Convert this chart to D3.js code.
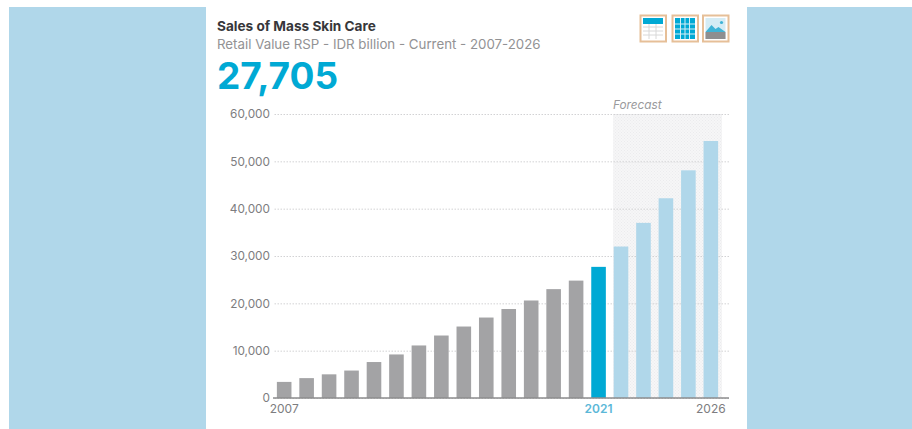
<!DOCTYPE html>
<html>
<head>
<meta charset="utf-8">
<script src="https://cdn.jsdelivr.net/npm/d3@7"></script>
<style>
  html, body { margin: 0; padding: 0; background: #fff; overflow: hidden; }
  text { font-family: "Inter", "Noto Sans", sans-serif; }
</style>
</head>
<body>
<svg id="chart" width="912" height="429"></svg>
<script>
// values
const years = [2007, 2008, 2009, 2010, 2011, 2012, 2013, 2014, 2015, 2016,
               2017, 2018, 2019, 2020, 2021, 2022, 2023, 2024, 2025, 2026];
const sales = [3400, 4200, 5000, 5800, 7600, 9200, 11100, 13200, 15100, 17000,
               18800, 20600, 23000, 24800, 27705, 32000, 37000, 42200, 48100, 54300];
const yTicks = [0, 10000, 20000, 30000, 40000, 50000, 60000];
const xLabels = [2007, 2021, 2026];
const currentYear = 2021;

const svg = d3.select("#chart");

// defs for the forecast hatching
const pattern = svg.append("defs").append("pattern")
    .attr("id", "hatch")
    .attr("width", 3).attr("height", 3)
    .attr("patternUnits", "userSpaceOnUse");
pattern.append("rect").attr("width", 3).attr("height", 3).attr("fill", "#f6f6f7");
pattern.append("rect").attr("width", 1).attr("height", 1).attr("fill", "#ebebed");
pattern.append("rect").attr("x", 1.5).attr("y", 1.5).attr("width", 1).attr("height", 1).attr("fill", "#ebebed");

// side panels
svg.selectAll("rect.panel")
    .data([[9, 197], [747, 165]])
    .join("rect")
    .attr("class", "panel")
    .attr("x", d => d[0])
    .attr("y", 7)
    .attr("width", d => d[1])
    .attr("height", 422)
    .attr("fill", "#b0d7ea");

const x = d3.scaleBand()
    .domain(years)
    .range([273.5, 721.5])
    .paddingInner(0.35)
    .paddingOuter(0.15);

const y = d3.scaleLinear()
    .domain([0, 60000])
    .range([398, 114]);

// forecast area
const forecastLeft = 613;
svg.append("rect")
    .attr("x", forecastLeft)
    .attr("y", y(60000))
    .attr("width", 722 - forecastLeft)
    .attr("height", y(0) - y(60000))
    .attr("fill", "url(#hatch)");

svg.append("text")
    .attr("x", 613)
    .attr("y", 109)
    .attr("font-size", 11.8)
    .attr("font-style", "italic")
    .attr("fill", "#9a9a9c")
    .text("Forecast");

// y axis with dotted grid
const yAxis = d3.axisLeft(y)
    .tickValues(yTicks)
    .tickSize(456)
    .tickPadding(3)
    .tickFormat(d3.format(","));

const yG = svg.append("g")
    .attr("transform", "translate(729,0)")
    .call(yAxis);
yG.select(".domain").remove();
yG.selectAll(".tick line")
    .attr("stroke", "#d2d2d4")
    .attr("stroke-width", 1)
    .attr("stroke-dasharray", "1.5,1.5");
yG.selectAll(".tick text")
    .attr("font-size", 11.8)
    .attr("fill", "#7d7d80");

// bars
svg.selectAll("rect.bar")
    .data(years)
    .join("rect")
    .attr("class", "bar")
    .attr("x", d => x(d))
    .attr("y", (d, i) => y(sales[i]))
    .attr("width", x.bandwidth())
    .attr("height", (d, i) => y(0) - y(sales[i]))
    .attr("fill", d => d < currentYear ? "#a3a3a5" : d === currentYear ? "#00a9d4" : "#b0d7ea");

// baseline
svg.append("line")
    .attr("x1", 273).attr("x2", 729)
    .attr("y1", y(0)).attr("y2", y(0))
    .attr("stroke", "#8c8c8e")
    .attr("stroke-width", 1.5);

// x labels
const xAxis = d3.axisBottom(x)
    .tickValues(xLabels)
    .tickSize(0)
    .tickPadding(6)
    .tickFormat(d3.format("d"));
const xG = svg.append("g")
    .attr("transform", `translate(0,${y(0)})`)
    .call(xAxis);
xG.select(".domain").remove();
xG.selectAll(".tick text")
    .attr("font-size", 12)
    .attr("font-weight", d => d === currentYear ? 600 : 400)
    .attr("fill", d => d === currentYear ? "#5cb8d8" : "#7d7d80");

// heading
svg.append("text")
    .attr("x", 217).attr("y", 31)
    .attr("font-size", 13.6)
    .attr("font-weight", 700)
    .attr("fill", "#37373a")
    .text("Sales of Mass Skin Care");

svg.append("text")
    .attr("x", 217).attr("y", 49)
    .attr("font-size", 13.3)
    .attr("fill", "#929294")
    .text("Retail Value RSP - IDR billion - Current - 2007-2026");

svg.append("text")
    .attr("x", 217).attr("y", 89)
    .attr("font-size", 37)
    .attr("font-weight", 700)
    .attr("fill", "#00a9d4")
    .text("27,705");

// toolbar icons
const icons = [
  { x: 640, kind: "table" },
  { x: 672, kind: "grid" },
  { x: 702.5, kind: "image" }
];
const iconG = svg.selectAll("g.icon")
    .data(icons)
    .join("g")
    .attr("class", "icon")
    .attr("transform", d => `translate(${d.x},15)`);
iconG.append("rect")
    .attr("x", 0.5).attr("y", 0.5)
    .attr("width", 25.5).attr("height", 26)
    .attr("fill", "#fff")
    .attr("stroke", "#e6bf98")
    .attr("stroke-width", 2);
iconG.filter(d => d.kind === "table").each(function () {
  const g = d3.select(this);
  g.append("rect").attr("x", 3).attr("y", 3).attr("width", 20).attr("height", 6).attr("fill", "#00a9d4");
  [12, 16, 20].forEach(v => g.append("line").attr("x1", 3).attr("x2", 23).attr("y1", v).attr("y2", v).attr("stroke", "#d8d8d8"));
  [9, 16].forEach(v => g.append("line").attr("x1", v).attr("x2", v).attr("y1", 9).attr("y2", 24).attr("stroke", "#d8d8d8"));
});
iconG.filter(d => d.kind === "grid").each(function () {
  const g = d3.select(this);
  g.append("rect").attr("x", 3).attr("y", 3).attr("width", 20).attr("height", 21).attr("fill", "#00a9d4");
  [9, 14, 19].forEach(v => g.append("line").attr("x1", 3).attr("x2", 23).attr("y1", v).attr("y2", v).attr("stroke", "#d6eef6"));
  [8.5, 13, 17.5].forEach(v => g.append("line").attr("x1", v).attr("x2", v).attr("y1", 3).attr("y2", 24).attr("stroke", "#d6eef6"));
});
iconG.filter(d => d.kind === "image").each(function () {
  const g = d3.select(this);
  g.append("rect").attr("x", 3).attr("y", 3).attr("width", 20).attr("height", 21).attr("fill", "#d5ecf5");
  g.append("rect").attr("x", 3).attr("y", 17).attr("width", 20).attr("height", 7).attr("fill", "#8e8e90");
  g.append("path").attr("d", "M3,17 L9,10 L13,14 L16,12 L23,17 Z").attr("fill", "#3fb3d6");
  g.append("circle").attr("cx", 19).attr("cy", 7.5).attr("r", 1.6).attr("fill", "#3fb3d6");
});
</script>
</body>
</html>
